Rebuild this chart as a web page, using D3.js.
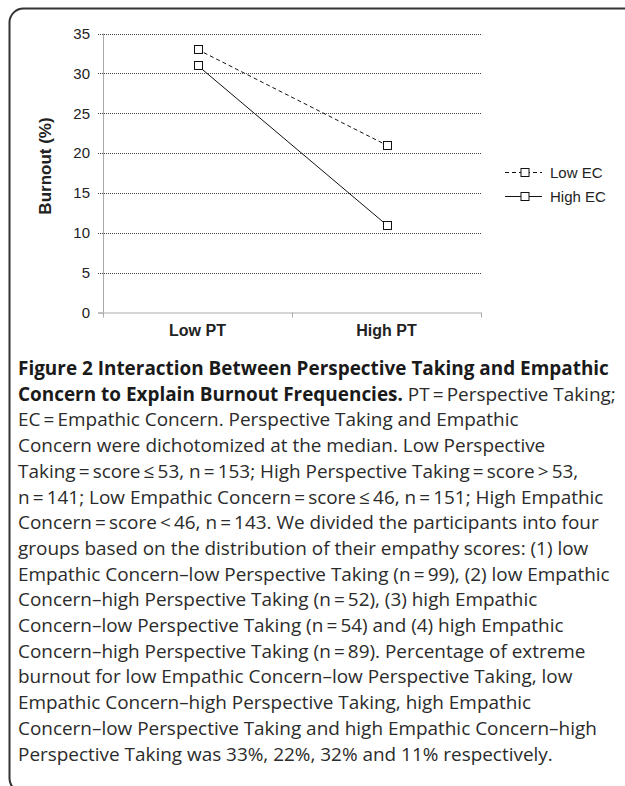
<!DOCTYPE html>
<html>
<head>
<meta charset="utf-8">
<script src="https://cdn.jsdelivr.net/npm/d3@7"></script>
<style>
  body { margin: 0; background: #fff; }
  svg { display: block; }
</style>
</head>
<body>
<svg id="fig" width="625" height="786"></svg>
<script>
// values
var categories = ["Low PT", "High PT"];
var seriesNames = ["Low EC", "High EC"];
var lowEC = [33, 21];
var highEC = [31, 11];
var yTicks = [0, 5, 10, 15, 20, 25, 30, 35];

var captionLines = [
  [["Figure 2 Interaction Between Perspective Taking and Empathic", true]],
  [["Concern to Explain Burnout Frequencies.", true], [" PT\u2009=\u2009Perspective Taking;", false]],
  [["EC\u2009=\u2009Empathic Concern. Perspective Taking and Empathic", false]],
  [["Concern were dichotomized at the median. Low Perspective", false]],
  [["Taking\u2009=\u2009score\u2009\u2264\u200953, n\u2009=\u2009153; High Perspective Taking\u2009=\u2009score\u2009>\u200953,", false]],
  [["n\u2009=\u2009141; Low Empathic Concern\u2009=\u2009score\u2009\u2264\u200946, n\u2009=\u2009151; High Empathic", false]],
  [["Concern\u2009=\u2009score\u2009<\u200946, n\u2009=\u2009143. We divided the participants into four", false]],
  [["groups based on the distribution of their empathy scores: (1) low", false]],
  [["Empathic Concern\u2013low Perspective Taking (n\u2009=\u200999), (2) low Empathic", false]],
  [["Concern\u2013high Perspective Taking (n\u2009=\u200952), (3) high Empathic", false]],
  [["Concern\u2013low Perspective Taking (n\u2009=\u200954) and (4) high Empathic", false]],
  [["Concern\u2013high Perspective Taking (n\u2009=\u200989). Percentage of extreme", false]],
  [["burnout for low Empathic Concern\u2013low Perspective Taking, low", false]],
  [["Empathic Concern\u2013high Perspective Taking, high Empathic", false]],
  [["Concern\u2013low Perspective Taking and high Empathic Concern\u2013high", false]],
  [["Perspective Taking was 33%, 22%, 32% and 11% respectively.", false]]
];

var svg = d3.select("#fig");
var chartFont = "'Liberation Sans', Arial, sans-serif";

// rounded frame (runs off the right and bottom edges)
svg.append("rect")
  .attr("x", 9.5).attr("y", 8.5)
  .attr("width", 700).attr("height", 784)
  .attr("rx", 14)
  .attr("fill", "none")
  .attr("stroke", "#333")
  .attr("stroke-width", 2);

var plotLeft = 103, plotRight = 481, plotTop = 33.5, plotBottom = 312.5;

var x = d3.scalePoint().domain(categories).range([plotLeft, plotRight]).padding(0.5);
var xb = d3.scaleBand().domain(categories).range([plotLeft, plotRight]);
var y = d3.scaleLinear().domain([0, 35]).range([plotBottom, plotTop]);

// dotted gridlines (start a little left of the axis, like ticks)
svg.append("g").selectAll("line")
  .data(yTicks.filter(function(d) { return d > 0; }))
  .enter().append("line")
    .attr("x1", plotLeft - 5).attr("x2", plotRight)
    .attr("y1", function(d) { return Math.round(y(d)) + 0.5; })
    .attr("y2", function(d) { return Math.round(y(d)) + 0.5; })
    .attr("stroke", "#444")
    .attr("stroke-dasharray", "1,1");

// y axis
var yAxis = svg.append("g")
  .attr("transform", "translate(" + plotLeft + ",0)")
  .call(d3.axisLeft(y).tickValues(yTicks).tickSize(5).tickPadding(8));
yAxis.select(".domain").attr("stroke", "#aaa").attr("d", "M0.5," + plotTop + "V" + plotBottom);
yAxis.selectAll(".tick line").attr("stroke", function(d) { return d === 0 ? "#aaa" : "none"; });
yAxis.selectAll("text")
  .attr("font-family", chartFont).attr("font-size", 15).attr("fill", "#222");

// x axis: ticks at category boundaries, labels centred
var xAxis = svg.append("g")
  .attr("transform", "translate(0," + plotBottom + ")")
  .call(d3.axisBottom(xb).tickSize(0).tickPadding(12));
xAxis.select(".domain").attr("stroke", "#aaa").attr("d", "M" + (plotLeft - 5) + ",0.5H" + plotRight);
xAxis.selectAll("text")
  .attr("font-family", chartFont).attr("font-size", 16)
  .attr("font-weight", "bold").attr("fill", "#222");
svg.append("g").selectAll("line")
  .data(categories.map(function(c) { return xb(c); }).concat([plotRight]))
  .enter().append("line")
    .attr("x1", function(d) { return Math.round(d) + 0.5; })
    .attr("x2", function(d) { return Math.round(d) + 0.5; })
    .attr("y1", plotBottom).attr("y2", plotBottom + 5)
    .attr("stroke", "#aaa");

svg.append("text")
  .attr("transform", "translate(51,166) rotate(-90)")
  .attr("text-anchor", "middle")
  .attr("font-family", chartFont).attr("font-size", 17)
  .attr("font-weight", "bold").attr("fill", "#222")
  .text("Burnout (%)");

// series
var series = [
  { name: seriesNames[0], values: lowEC, dash: "4,3" },
  { name: seriesNames[1], values: highEC, dash: null }
];

var line = d3.line()
  .x(function(d, i) { return x(categories[i]); })
  .y(function(d) { return y(d); });

var g = svg.append("g");
series.forEach(function(s) {
  g.append("path")
    .attr("d", line(s.values))
    .attr("fill", "none")
    .attr("stroke", "#111")
    .attr("stroke-width", 1)
    .attr("stroke-dasharray", s.dash);
  g.selectAll(null)
    .data(s.values)
    .enter().append("rect")
      .attr("x", function(d, i) { return Math.round(x(categories[i])) - 3.5; })
      .attr("y", function(d) { return Math.round(y(d)) - 3.5; })
      .attr("width", 8).attr("height", 8)
      .attr("fill", "#fff").attr("stroke", "#111");
});

// legend
var legend = svg.append("g").selectAll("g")
  .data(series)
  .enter().append("g")
    .attr("transform", function(d, i) { return "translate(505," + (172.5 + i * 24) + ")"; });
legend.append("line")
  .attr("x1", 0).attr("x2", 37)
  .attr("stroke", "#111")
  .attr("stroke-dasharray", function(d) { return d.dash; });
legend.append("rect")
  .attr("x", 16).attr("y", -4).attr("width", 8).attr("height", 8)
  .attr("fill", "#fff").attr("stroke", "#111");
legend.append("text")
  .attr("x", 45).attr("dy", "0.36em")
  .attr("font-family", chartFont).attr("font-size", 15).attr("fill", "#222")
  .text(function(d) { return d.name; });

// caption
var capFont = "'Open Sans', 'Noto Sans', sans-serif";
var capX = 18, capY = 375, capStep = 25.7;
var cap = svg.append("g");
var capTexts = cap.selectAll("text")
  .data(captionLines)
  .enter().append("text")
    .attr("x", capX)
    .attr("y", function(d, i) { return capY + i * capStep; })
    .attr("font-family", capFont)
    .attr("font-size", 18)
    .attr("fill", "#2b2b2b");
capTexts.selectAll("tspan")
  .data(function(d) { return d; })
  .enter().append("tspan")
    .attr("font-weight", function(d) { return d[1] ? 700 : 400; })
    .attr("fill", function(d) { return d[1] ? "#1a1a1a" : null; })
    .text(function(d) { return d[0]; });

// fit the caption size so the widest full line spans like the original
var ref = capTexts.filter(function(d, i) { return i === 8; }).node();
var w = ref.getComputedTextLength();
var size = 18 * 592 / w;
capTexts.attr("font-size", size);
</script>
</body>
</html>
